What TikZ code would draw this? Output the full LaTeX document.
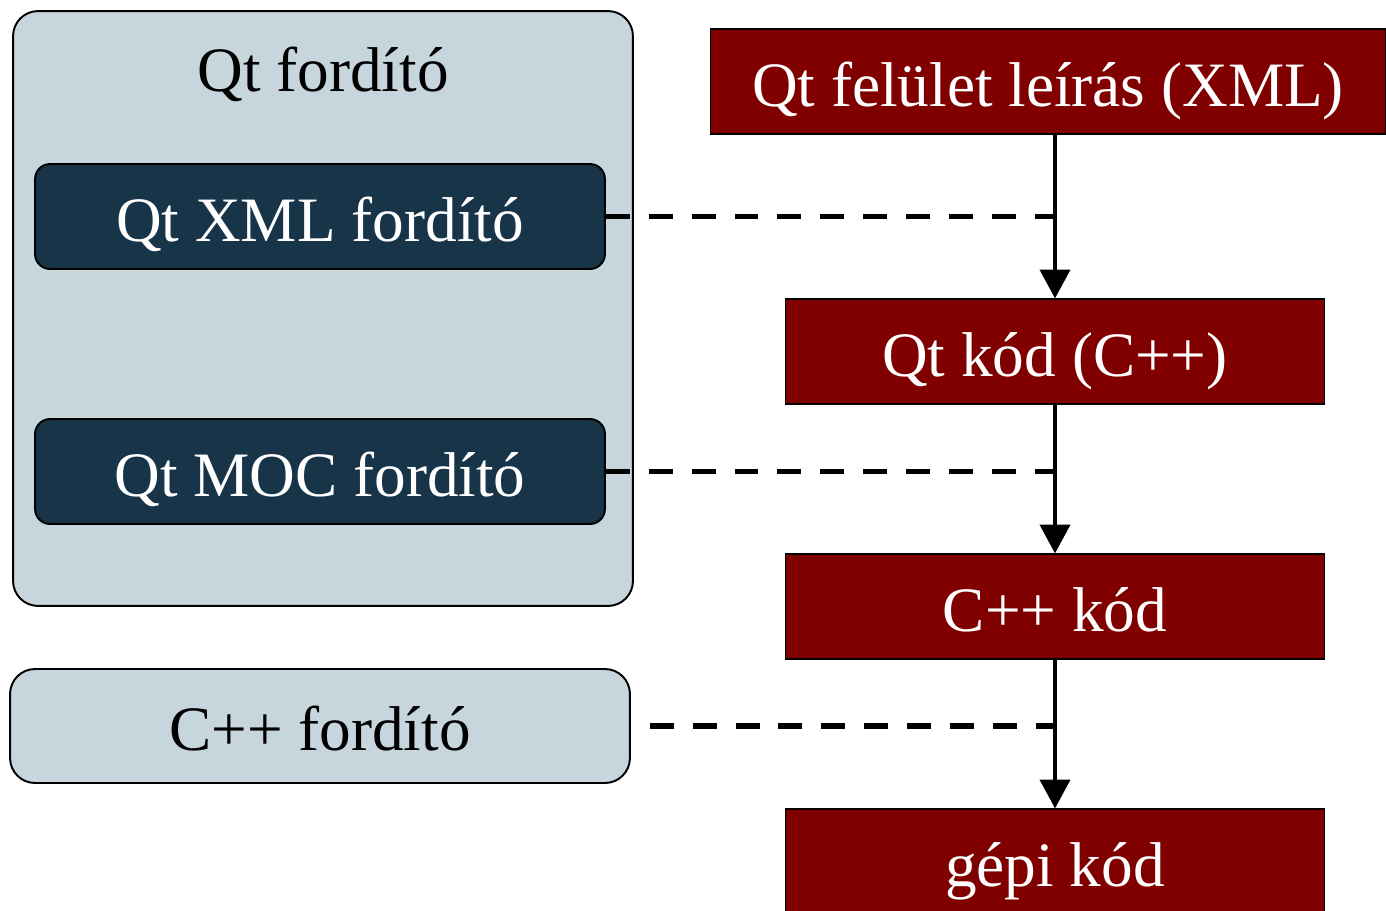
\documentclass[tikz,border=0pt]{standalone}
\usepackage{fontspec}
\setmainfont{Liberation Serif}
\usetikzlibrary{arrows.meta, positioning, calc}
\definecolor{myRed}{RGB}{128, 0, 0}
\definecolor{myNavy}{RGB}{24, 52, 73}
\definecolor{myLight}{RGB}{199, 213, 221}

\begin{document}
\begin{tikzpicture}[x=0.02cm, y=-0.02cm,
    % --- 스타일 정의 ---
    % 1. 노드 스타일
    bigfont/.style={font=\fontsize{36}{43}\selectfont},
    boxtext/.style={bigfont, text height=28pt, text depth=0pt},
    groupbox/.style={draw=black, line width=1.1pt, fill=myLight, rounded corners=0.5cm, inner sep=0pt},
    compbox/.style={draw=black, line width=1.1pt, fill=myNavy, text=white, rounded corners=0.3cm, minimum width=11.4cm, minimum height=2.1cm, inner sep=0pt, boxtext},
    codebox/.style={draw=black, line width=0.6pt, fill=myRed, text=white, minimum width=10.8cm, minimum height=2.1cm, inner sep=0pt, boxtext},
    % 2. 화살표 스타일
    flowarrow/.style={-{Triangle[width=17pt, length=16.5pt]}, line width=2.6pt}, % 아래로 가는 화살표
    link/.style={line width=3.3pt, dash pattern=on 13.6pt off 10.8pt} % 굵은 점선
]
\useasboundingbox (0,0) rectangle (1386,910);

% === 1단계: 왼쪽 (컴파일러) ===
\node[groupbox, minimum width=12.4cm, minimum height=11.9cm] (qtc) at (323, 308.5) {};
\node[bigfont, anchor=base] (qtctitle) at (323, 91) {Qt fordító};
\node[compbox] (xmlc) at (320, 216.5) {Qt XML fordító};
\node[compbox] (mocc) at (320, 471.5) {Qt MOC fordító};
\node[groupbox, minimum width=12.4cm, minimum height=2.28cm, boxtext] (cppc) at (320, 726) {C++ fordító};

% === 2단계: 오른쪽 (코드) ===
\node[codebox, minimum width=13.52cm] (ui) at (1048, 81.5) {Qt felület leírás (XML)};
\node[codebox] (qtcode) at (1055, 351.5) {Qt kód (C++)};
\node[codebox] (cppcode) at (1055, 606.5) {C++ kód};
\node[codebox] (machine) at (1055, 861.5) {gépi kód};

% === 3단계: 화살표 ===
\draw[flowarrow] (qtcode.north |- ui.south) -- (qtcode.north);
\draw[flowarrow] (qtcode) -- (cppcode);
\draw[flowarrow] (cppcode) -- (machine);

% 점선 연결
\draw[link] (xmlc.east) -- (xmlc.east -| qtcode.north);
\draw[link] (mocc.east) -- (mocc.east -| qtcode.north);
\draw[link, dash phase=13.6pt] (cppc.east) -- (cppc.east -| qtcode.north);

\end{tikzpicture}
\end{document}
